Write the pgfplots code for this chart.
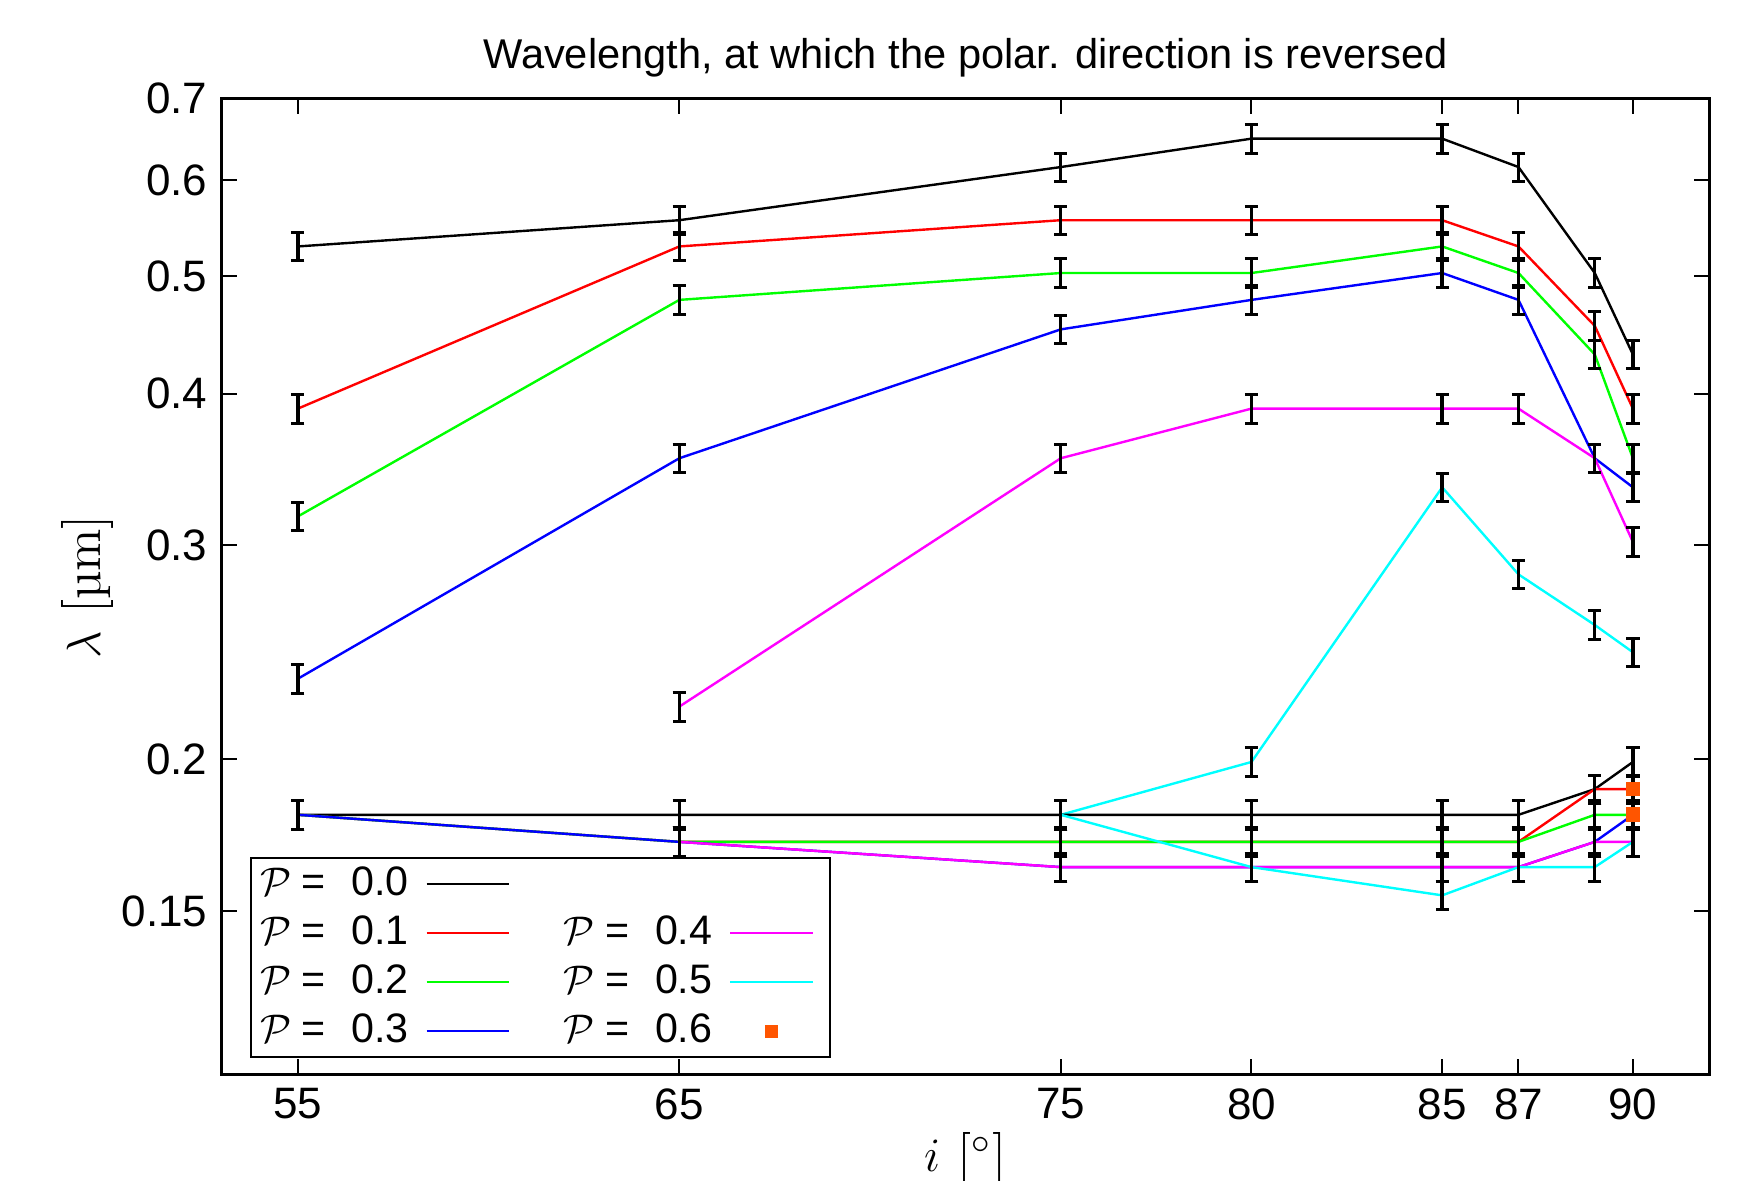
\documentclass[border=0pt]{standalone}
\usepackage{fontspec}
\setsansfont{Liberation Sans}
\usepackage{pgfplots}
\pgfplotsset{compat=1.18}
\definecolor{myorange}{RGB}{255,85,0}
\definecolor{pmag}{RGB}{255,0,255}
\definecolor{pcya}{RGB}{0,255,255}
\definecolor{pgre}{RGB}{0,255,0}
\definecolor{pblu}{RGB}{0,0,255}
\definecolor{pred}{RGB}{255,0,0}
\pgfplotsset{
  ser/.style={line width=0.6pt, mark=none,
    error bars/y dir=both, error bars/y fixed relative=0.027,
    error bars/error bar style={black, line width=0.85pt},
    error bars/error mark options={black, line width=0.75pt, mark size=1.65pt, rotate=90}},
  leglin/.style={legend image code/.code={\draw[#1, line width=0.6pt] (0pt,0pt) -- (20.7pt,0pt);}},
  leglinR/.style={legend image code/.code={\draw[#1, line width=0.6pt] (0pt,0pt) -- (20.7pt,0pt); \path (24.5pt,0pt);}},
}
\newcommand{\PP}[1]{$\mathcal{P}$\hspace{2.5pt}=\hspace{6.5pt}#1}
\begin{document}
\begin{tikzpicture}
\begin{axis}[
  at={(0,0)}, anchor=south west,
  width=371.9pt, height=243.9pt, scale only axis,
  xmin=53, xmax=92, ymin=0.11, ymax=0.7, ymode=log,
  xtick={55,65,75,80,85,87,90},
  ytick={0.15,0.2,0.3,0.4,0.5,0.6,0.7},
  yticklabels={0.15,0.2,0.3,0.4,0.5,0.6,0.7},
  yminorticks=false, minor y tick num=0,
  tick align=inside,
  major tick length=3.75pt,
  tick style={black, line width=0.5pt},
  axis line style={line width=0.7pt},
  ticklabel style={font=\sffamily\fontsize{11}{13}\selectfont},
  /pgf/number format/assume math mode=true,
  title={Wavelength, at which the polar. direction is reversed},
  title style={font=\sffamily\fontsize{10.4}{12}\selectfont, at={(axis description cs:0.5,1)}, anchor=center, yshift=4.2pt},
  xlabel={$i$ [$^\circ$]},
  ylabel={$\lambda$ [µm]},
  label style={font=\fontsize{13}{15}\selectfont},
  xlabel style={at={(axis description cs:0.5,0)}, anchor=center, yshift=-20.9pt},
  ylabel style={at={(axis description cs:-0.0903,0.5)}, anchor=center},
  legend columns=2,
  legend plot pos=right,
  legend cell align=left,
  legend style={at={(axis description cs:0.0194,0.0172)}, anchor=south west,
    draw=black, line width=0.5pt,
    font=\sffamily\fontsize{10.3}{12}\selectfont,
    inner xsep=0.2pt, inner ysep=0pt, row sep=-0.4pt,
    /tikz/column 1/.style={column sep=2.2pt},
    /tikz/column 2/.style={column sep=11.3pt},
    /tikz/column 3/.style={column sep=2.2pt}},
]
% upper branches
\addplot[ser, black, forget plot] coordinates {(55,0.529) (65,0.556) (75,0.615) (80,0.649) (85,0.649) (87,0.615) (89,0.503) (90,0.431)};
\addplot[ser, pred, forget plot] coordinates {(55,0.389) (65,0.529) (75,0.556) (80,0.556) (85,0.556) (87,0.529) (89,0.455) (90,0.389)};
\addplot[ser, pgre, forget plot] coordinates {(55,0.317) (65,0.478) (75,0.503) (80,0.503) (85,0.529) (87,0.503) (89,0.431) (90,0.354)};
\addplot[ser, pblu, forget plot] coordinates {(55,0.233) (65,0.354) (75,0.452) (80,0.478) (85,0.503) (87,0.478) (89,0.354) (90,0.335)};
\addplot[ser, pmag, forget plot] coordinates {(65,0.221) (75,0.354) (80,0.389) (85,0.389) (87,0.389) (89,0.354) (90,0.302)};
\addplot[ser, pcya, forget plot] coordinates {(75,0.180) (80,0.199) (85,0.335) (87,0.284) (89,0.258) (90,0.245)};
% lower branches
\addplot[ser, black, forget plot] coordinates {(55,0.180) (65,0.180) (75,0.180) (80,0.180) (85,0.180) (87,0.180) (89,0.189) (90,0.199)};
\addplot[ser, pred, forget plot] coordinates {(55,0.180) (65,0.171) (75,0.171) (80,0.171) (85,0.171) (87,0.171) (89,0.189) (90,0.189)};
\addplot[ser, pgre, forget plot] coordinates {(55,0.180) (65,0.171) (75,0.171) (80,0.171) (85,0.171) (87,0.171) (89,0.180) (90,0.180)};
\addplot[ser, pblu, forget plot] coordinates {(55,0.180) (65,0.171) (75,0.163) (80,0.163) (85,0.163) (87,0.163) (89,0.171) (90,0.180)};
\addplot[ser, pmag, forget plot] coordinates {(65,0.171) (75,0.163) (80,0.163) (85,0.163) (87,0.163) (89,0.171) (90,0.171)};
\addplot[ser, pcya, forget plot] coordinates {(75,0.180) (80,0.163) (85,0.1545) (87,0.163) (89,0.163) (90,0.171)};
% P = 0.6
\addplot[only marks, mark=square*, mark size=1.65pt, color=myorange, forget plot] coordinates {(90,0.189) (90,0.180)};
% legend
\addlegendimage{leglin=black}
\addlegendentry{\PP{0.0}}
\addlegendimage{empty legend}
\addlegendentry{}
\addlegendimage{leglin=pred}
\addlegendentry{\PP{0.1}}
\addlegendimage{leglinR=pmag}
\addlegendentry{\PP{0.4}}
\addlegendimage{leglin=pgre}
\addlegendentry{\PP{0.2}}
\addlegendimage{leglinR=pcya}
\addlegendentry{\PP{0.5}}
\addlegendimage{leglin=pblu}
\addlegendentry{\PP{0.3}}
\addlegendimage{legend image code/.code={\fill[myorange] (8.95pt,-1.4pt) rectangle (11.75pt,1.4pt); \path (0pt,0pt) (24.5pt,0pt);}}
\addlegendentry{\PP{0.6}}
\end{axis}
\pgfresetboundingbox
\path[use as bounding box] (-55.4pt,-26.4pt) rectangle (381.1pt,268.6pt);
\end{tikzpicture}
\end{document}
